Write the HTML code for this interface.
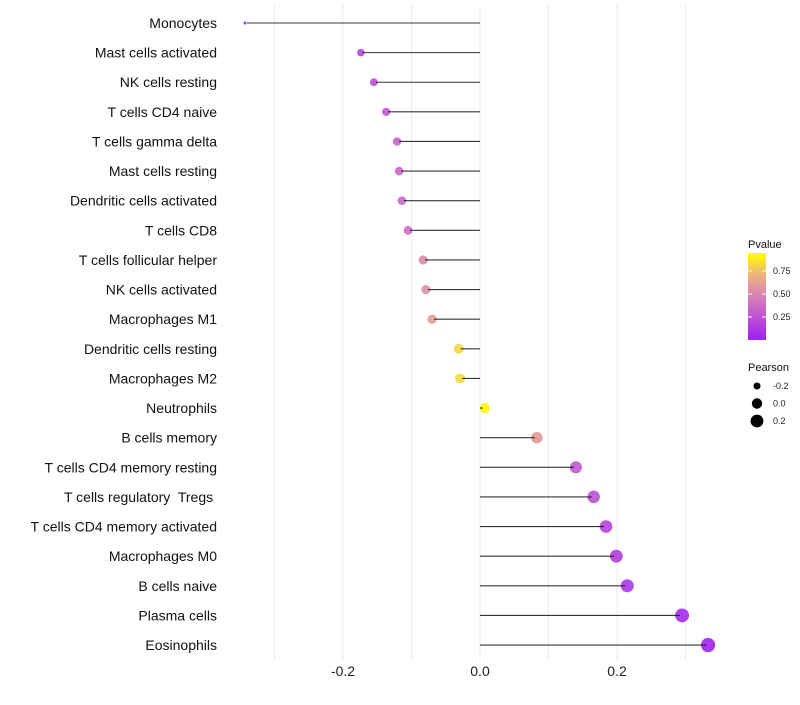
<!DOCTYPE html>
<html><head><meta charset="utf-8"><style>body{margin:0;background:#fff}svg{font-family:"Liberation Sans",sans-serif}</style></head>
<body>
<svg id="c" width="800" height="700"></svg>
<script>
const categories=["Monocytes","Mast cells activated","NK cells resting","T cells CD4 naive","T cells gamma delta","Mast cells resting","Dendritic cells activated","T cells CD8","T cells follicular helper","NK cells activated","Macrophages M1","Dendritic cells resting","Macrophages M2","Neutrophils","B cells memory","T cells CD4 memory resting","T cells regulatory  Tregs ","T cells CD4 memory activated","Macrophages M0","B cells naive","Plasma cells","Eosinophils"];
const pearson=[-0.343,-0.174,-0.155,-0.137,-0.121,-0.118,-0.114,-0.105,-0.083,-0.079,-0.070,-0.031,-0.029,0.007,0.083,0.140,0.166,0.184,0.199,0.215,0.295,0.333];
const pvalues=[0.01,0.2,0.25,0.3,0.35,0.37,0.38,0.4,0.55,0.58,0.65,0.88,0.89,0.97,0.62,0.3,0.25,0.2,0.15,0.12,0.05,0.02];
const xTicks=[-0.2,0.0,0.2];
const gridVals=[-0.3,-0.2,-0.1,0,0.1,0.2,0.3];
const pTicks=[0.25,0.5,0.75];
const sizeTicks=[-0.2,0.0,0.2];
const NS="http://www.w3.org/2000/svg",svg=document.getElementById('c');
function mk(t,a,p){const e=document.createElementNS(NS,t);for(const k in a)e.setAttribute(k,a[k]);(p||svg).appendChild(e);return e;}
const X=v=>480+v*685, Y=i=>23+i*29.62, R=v=>Math.sqrt(Math.max(1.5,2.25+(v+0.343)*72));
function col(p){const s=[[0,[160,32,240]],[0.5,[213,128,184]],[0.8,[240,190,112]],[1,[255,255,0]]];
 for(let i=1;i<s.length;i++)if(p<=s[i][0]){const t=(p-s[i-1][0])/(s[i][0]-s[i-1][0]);const c=s[i-1][1].map((a,j)=>Math.round(a+(s[i][1][j]-a)*t));return`rgb(${c})`;}return'rgb(255,255,0)';}
gridVals.forEach(v=>{const g=mk('line',{x1:X(v),x2:X(v),y1:5,y2:660,stroke:'#ebebeb','stroke-width':1});

});
xTicks.forEach(v=>{const t=mk('text',{x:X(v),y:676,'text-anchor':'middle','font-size':14,fill:'#222'});t.textContent=v.toFixed(1);

});
categories.forEach((c,i)=>{const y=Y(i);
 const t=mk('text',{x:217,y:y+5,'text-anchor':'end','font-size':14,fill:'#111','xml:space':'preserve'});t.style.whiteSpace='pre';t.textContent=c;
 
 
 const d=mk('circle',{cx:X(pearson[i]),cy:y,r:R(pearson[i]),fill:col(pvalues[i]),'fill-opacity':0.9});
 
 
 const l=mk('line',{x1:X(0),x2:X(pearson[i])-(pearson[i]>0?2:-2),y1:y,y2:y,stroke:'#111','stroke-width':1.1,'stroke-opacity':0.85});
 
 
});
const defs=mk('defs',{});const gr=mk('linearGradient',{id:'pg',x1:0,y1:1,x2:0,y2:0},defs);
[0,0.25,0.5,0.75,1].forEach(p=>mk('stop',{offset:p,'stop-color':col(p)},gr));
let t=mk('text',{x:748,y:248,'font-size':11,fill:'#111'});t.textContent='Pvalue';

const cb=mk('rect',{x:748,y:253,width:18,height:87,fill:'url(#pg)'});

pTicks.forEach(p=>{const y=340-p*92;mk('line',{x1:748,x2:752,y1:y,y2:y,stroke:'#fff'});mk('line',{x1:762,x2:766,y1:y,y2:y,stroke:'#fff'});
 const tt=mk('text',{x:773,y:y+3,'font-size':9,fill:'#222'});tt.textContent=p.toFixed(2);
 });
t=mk('text',{x:748,y:371,'font-size':11,fill:'#111'});t.textContent='Pearson';

sizeTicks.forEach((v,i)=>{const y=386+i*17.5;const c=mk('circle',{cx:757,cy:y,r:R(v),fill:'#000'});
 
 const tt=mk('text',{x:773,y:y+3,'font-size':9,fill:'#222'});tt.textContent=v.toFixed(1);
 });
</script>
</body></html>
